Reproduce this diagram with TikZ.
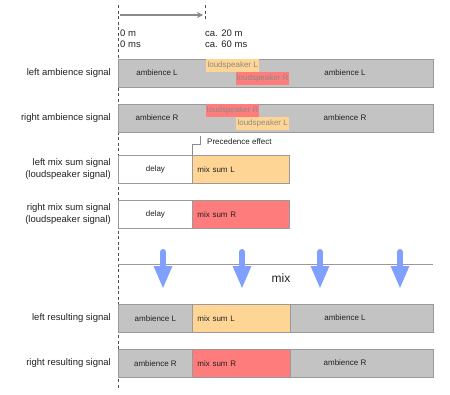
\documentclass[tikz,border=0pt]{standalone}
\usepackage{fontspec}
\setmainfont{Liberation Sans}
\usetikzlibrary{arrows.meta, positioning, calc}
\definecolor{cgray}{HTML}{C3C3C3}
\definecolor{cedge}{HTML}{9A9A9A}
\definecolor{corange}{HTML}{FFD596}
\definecolor{cred}{HTML}{FF7C7C}
\definecolor{cblue}{HTML}{80A0FF}
\definecolor{ctext}{HTML}{222222}
\definecolor{cdim}{HTML}{8A8A8A}
\tikzset{
  every picture/.style={x=1pt, y=-1pt, font=\fontsize{8}{9.5}\selectfont, text=ctext},
  seg/.style={draw=cedge, fill=#1, line width=0.8pt, minimum height=28pt, inner sep=0pt, anchor=north west},
  seg/.default=cgray,
  spk/.style={fill=#1, text=cdim, minimum height=13pt, minimum width=53pt, inner sep=0pt, anchor=north west},
  rowlabel/.style={font=\fontsize{9.5}{11.5}\selectfont, align=right, anchor=east, inner sep=0pt},
  ticklabel/.style={font=\fontsize{9.5}{11}\selectfont, align=left, anchor=west, inner sep=0pt},
  timeline/.style={draw=ctext!80, dash pattern=on 3pt off 2.5pt, line width=0.7pt},
  timearrow/.style={-{Stealth[length=6pt, width=6pt]}, draw=cdim, line width=1.3pt},
  bracket/.style={draw=cdim, line width=0.6pt},
  mixline/.style={draw=cedge, line width=0.9pt},
  mixarrow/.style={-{Triangle[length=23pt, width=17pt]}, draw=cblue, line width=6pt, line cap=round},
}

\begin{document}
\begin{tikzpicture}
  \useasboundingbox (0,0) rectangle (450,394);

  % time axis
  \coordinate (t0top) at (118,5);
  \coordinate (t0bot) at (118,388);
  \coordinate (t1top) at (205,5);
  \coordinate (t1bot) at (205,20);
  \draw[timeline] (t0top) -- (t0bot);
  \draw[timeline] (t1top) -- (t1bot);
  \coordinate (ta) at (120,15);
  \coordinate (tb) at (203,15);
  \draw[timearrow] (ta) -- (tb);
  \node[ticklabel] (d0) at (120,38.5) {0 m\\0 ms};
  \node[ticklabel] (d1) at (205,38.5) {ca. 20 m\\ca. 60 ms};

  % ambience signals with the loudspeakers inside
  \foreach \i/\y/\s/\cu/\u/\cl/\l/\lab in {1/59/L/corange/L/cred/R/left, 2/104/R/cred/R/corange/L/right} {
    \node[seg, minimum width=315pt] (amb\i) at (118,\y) {};
    \node[spk=\cu] (spku\i) at (206,\y) {loudspeaker \u};
    \node[spk=\cl] (spkl\i) at (236,\y+13) {loudspeaker \l};
    \node (ambl\i) at (157,\y+14) {ambience \s};
    \node (ambr\i) at (345,\y+14) {ambience \s};
    \node[rowlabel] (la\i) at (111,\y+14) {\lab\ ambience signal};
  }

  % mix sum signals
  \foreach \i/\y/\s/\c/\lab in {1/155/L/corange/left, 2/200/R/cred/right} {
    \node[seg=white, minimum width=74pt] (dly\i) at (118,\y) {delay};
    \node[seg=\c, minimum width=97pt, text width=87pt, align=left] (mix\i) at (192,\y) {mix sum \s};
    \node[rowlabel] (lm\i) at (111,\y+14) {\lab\ mix sum signal\\(loudspeaker signal)};
  }
  \coordinate (pe) at (200,136);
  \coordinate (pk1) at (200,144);
  \coordinate (pk2) at (192,144);
  \draw[bracket] (pe) -- (pk1) -- (pk2) -- (mix1.north west);
  \node[anchor=west, inner sep=0pt] (pet) at (207,142) {Precedence effect};

  % mixing
  \coordinate (ml0) at (118,264);
  \coordinate (ml1) at (433,264);
  \draw[mixline] (ml0) -- (ml1);
  \foreach \x [count=\k] in {163,242,320,400} {
    \coordinate (mt\k) at (\x,252);
    \coordinate (mb\k) at (\x,289);
    \draw[mixarrow] (mt\k) -- (mb\k);
  }
  \node[font=\fontsize{12}{14}\selectfont] (mixt) at (281,278) {mix};

  % resulting signals
  \foreach \i/\y/\s/\c/\lab in {1/304/L/corange/left, 2/349/R/cred/right} {
    \node[seg, minimum width=74pt] (ra\i) at (118,\y) {ambience \s};
    \node[seg=\c, minimum width=98pt, text width=88pt, align=left] (rm\i) at (192,\y) {mix sum \s};
    \node[seg, minimum width=143pt] (rb\i) at (290,\y) {};
    \node (rbt\i) at (345,\y+14) {ambience \s};
    \node[rowlabel] (lr\i) at (111,\y+14) {\lab\ resulting signal};
  }
\end{tikzpicture}
\end{document}
